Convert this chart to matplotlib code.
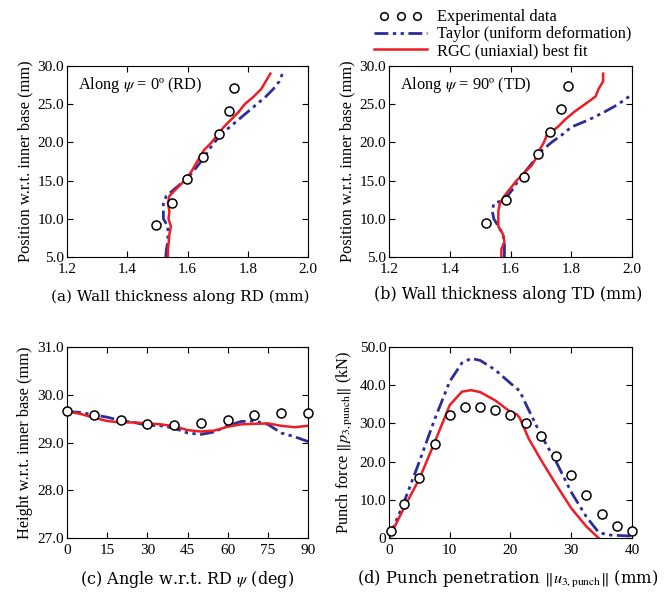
import matplotlib
matplotlib.use('Agg')
import matplotlib.pyplot as plt
from matplotlib.lines import Line2D
from matplotlib.legend_handler import HandlerLine2D

plt.rcParams['font.family'] = 'Liberation Serif'
plt.rcParams['mathtext.fontset'] = 'stix'

# (a) wall thickness along RD
pos_a = [5, 6, 7, 8, 9, 10, 11, 12, 13, 14, 15, 16, 17, 18, 19, 20, 21, 22, 23, 24, 25, 26, 27, 28, 29]
rgc_a = [1.535, 1.535, 1.538, 1.54, 1.545, 1.537, 1.54, 1.535, 1.54, 1.565, 1.59, 1.61, 1.625, 1.64,
         1.655, 1.68, 1.70, 1.72, 1.745, 1.77, 1.79, 1.82, 1.845, 1.86, 1.875]
tay_a = [1.528, 1.53, 1.535, 1.535, 1.535, 1.52, 1.52, 1.52, 1.53, 1.56, 1.59, 1.615, 1.635, 1.655,
         1.67, 1.69, 1.71, 1.74, 1.77, 1.80, 1.83, 1.86, 1.885, 1.905, 1.915]
exp_a_t = [1.495, 1.55, 1.597, 1.653, 1.705, 1.737, 1.755]
exp_a_p = [9.2, 12.1, 15.2, 18.1, 21.1, 24.1, 27.1]

# (b) wall thickness along TD
pos_b = [5, 6, 7, 8, 9, 10, 11, 12, 13, 14, 15, 16, 17, 18, 19, 20, 21, 22, 23, 24, 25, 26, 27, 28, 29]
rgc_b = [1.57, 1.57, 1.58, 1.575, 1.56, 1.56, 1.56, 1.565, 1.58, 1.60, 1.62, 1.645, 1.67, 1.685,
         1.695, 1.71, 1.72, 1.755, 1.78, 1.81, 1.845, 1.88, 1.89, 1.905, 1.905]
pos_b_tay = [5, 6, 7, 8, 9, 10, 11, 12, 12.5, 13, 14, 15, 16, 17, 18, 19, 20, 21, 22, 23, 24, 25, 26, 26.3]
tay_b = [1.58, 1.58, 1.58, 1.575, 1.56, 1.545, 1.54, 1.545, 1.58, 1.59, 1.61, 1.625, 1.645, 1.665,
         1.685, 1.705, 1.735, 1.77, 1.80, 1.86, 1.91, 1.955, 1.99, 2.0]
exp_b_t = [1.52, 1.585, 1.645, 1.69, 1.73, 1.765, 1.79]
exp_b_p = [9.5, 12.5, 15.5, 18.5, 21.4, 24.4, 27.4]

# (c) cup height vs angle
ang = [0, 5, 10, 15, 20, 25, 30, 35, 40, 45, 50, 55, 60, 65, 70, 75, 80, 85, 90]
rgc_c = [29.65, 29.6, 29.52, 29.45, 29.42, 29.42, 29.40, 29.38, 29.34, 29.26, 29.23, 29.25, 29.33,
         29.38, 29.39, 29.40, 29.35, 29.32, 29.35]
tay_c = [29.65, 29.63, 29.58, 29.53, 29.46, 29.42, 29.36, 29.35, 29.30, 29.20, 29.17, 29.22, 29.35,
         29.44, 29.45, 29.38, 29.20, 29.12, 29.02]
exp_c_ang = [0, 10, 20, 30, 40, 50, 60, 70, 80, 90]
exp_c_h = [29.65, 29.58, 29.48, 29.38, 29.36, 29.40, 29.47, 29.58, 29.62, 29.62]

# (d) punch force vs penetration
pen_rgc = [0, 2.5, 5, 7.5, 10, 12, 13.5, 15, 17.5, 20, 21, 21.5, 23, 25, 27.5, 30, 32.5, 34.5]
rgc_d = [0, 8, 15.5, 25, 34.8, 38.3, 38.7, 38.2, 36, 33, 32.4, 31.5, 26, 20.5, 14, 7.8, 3, 0]
pen_tay = [0, 2.5, 5, 7.5, 10, 12, 13.5, 15, 17.5, 20, 21.5, 23, 25, 27.5, 30, 32.5, 34.5, 36, 40]
tay_d = [0, 9.5, 20, 31, 41, 45.8, 47, 46.5, 44, 40.5, 38.5, 33.5, 27, 20, 12, 5.5, 1.5, 0.8, 0.5]
exp_d_u = [0.3, 2.5, 5, 7.5, 10, 12.5, 15, 17.5, 20, 22.5, 25, 27.5, 30, 32.5, 35, 37.5, 40]
exp_d_f = [1.8, 8.8, 15.8, 24.5, 32.2, 34.4, 34.3, 33.5, 32.3, 30.1, 26.8, 21.5, 16.5, 11.3, 6.4, 3.1, 1.8]

RED = '#ee1c25'
BLUE = '#2b2d9a'
DASH = (0, (5, 1.6, 1.2, 1.6, 1.2, 1.6))
W, H = 667, 593
FS = 11.8

fig = plt.figure(figsize=(W / 100, H / 100), dpi=100)


def make_ax(l, r, t, b):
    ax = fig.add_axes([l / W, 1 - b / H, (r - l) / W, (b - t) / H])
    ax.tick_params(direction='in', top=True, right=True, labelsize=11, length=4)
    ax.tick_params(axis='x', pad=4)
    ax.tick_params(axis='y', pad=2)
    return ax


def draw(ax, x_rgc, y_rgc, x_tay, y_tay, x_exp, y_exp):
    ax.plot(x_tay, y_tay, color=BLUE, lw=2, linestyle=DASH)
    ax.plot(x_rgc, y_rgc, color=RED, lw=1.8)
    ax.plot(x_exp, y_exp, 'o', ms=6.5, mfc='white', mec='black', mew=1.1, clip_on=False, zorder=5)


thick_ticks = [1.2, 1.4, 1.6, 1.8, 2.0]
pos_ticks = [5, 10, 15, 20, 25, 30]

ax = make_ax(67, 308, 66, 257)
draw(ax, rgc_a, pos_a, tay_a, pos_a, exp_a_t, exp_a_p)
ax.set_xlim(1.2, 2.0)
ax.set_ylim(5, 30)
ax.set_xticks(thick_ticks)
ax.set_yticks(pos_ticks)
ax.set_yticklabels(['%.1f' % v for v in pos_ticks])
ax.set_ylabel('Position w.r.t. inner base (mm)', fontsize=FS, labelpad=3)
ax.text(0.045, 0.955, r'Along $\psi$ = 0º (RD)', transform=ax.transAxes, fontsize=FS, va='top')
fig.text(180 / W, 1 - 297 / H, '(a) Wall thickness along RD (mm)', ha='center', va='center',
         fontsize=11, family='DejaVu Serif')

ax = make_ax(389, 632, 66, 257)
draw(ax, rgc_b, pos_b, tay_b, pos_b_tay, exp_b_t, exp_b_p)
ax.set_xlim(1.2, 2.0)
ax.set_ylim(5, 30)
ax.set_xticks(thick_ticks)
ax.set_yticks(pos_ticks)
ax.set_yticklabels(['%.1f' % v for v in pos_ticks])
ax.set_ylabel('Position w.r.t. inner base (mm)', fontsize=FS, labelpad=3)
ax.text(0.045, 0.955, r'Along $\psi$ = 90º (TD)', transform=ax.transAxes, fontsize=FS, va='top')
fig.text(508 / W, 1 - 295 / H, '(b) Wall thickness along TD (mm)', ha='center', va='center',
         fontsize=11.4, family='DejaVu Serif')

ax = make_ax(67, 308, 347, 538)
draw(ax, ang, rgc_c, ang, tay_c, exp_c_ang, exp_c_h)
ax.set_xlim(0, 90)
ax.set_ylim(27, 31)
ax.set_xticks([0, 15, 30, 45, 60, 75, 90])
ax.set_yticks([27, 28, 29, 30, 31])
ax.set_yticklabels(['%.1f' % v for v in [27, 28, 29, 30, 31]])
ax.set_ylabel('Height w.r.t. inner base (mm)', fontsize=FS, labelpad=3)
fig.text(187 / W, 1 - 580 / H, r'(c) Angle w.r.t. RD $\psi$ (deg)', ha='center', va='center',
         fontsize=11.5, family='DejaVu Serif')

ax = make_ax(389, 632, 347, 538)
draw(ax, pen_rgc, rgc_d, pen_tay, tay_d, exp_d_u, exp_d_f)
ax.set_xlim(0, 40)
ax.set_ylim(0, 50)
ax.set_xticks([0, 10, 20, 30, 40])
ax.set_yticks([0, 10, 20, 30, 40, 50])
ax.set_yticklabels(['0', '10.0', '20.0', '30.0', '40.0', '50.0'])
ax.set_ylabel(r'Punch force $\Vert p_{3,\mathrm{punch}}\Vert$ (kN)', fontsize=FS, labelpad=3)
fig.text(508 / W, 1 - 580 / H, r'(d) Punch penetration $\Vert u_{3,\mathrm{punch}}\Vert$ (mm)',
         ha='center', va='center', fontsize=11.8, family='DejaVu Serif')

handles = [
    Line2D([], [], ls='none', marker='o', ms=5.5, mfc='white', mec='black', mew=1.1),
    Line2D([], [], color=BLUE, lw=2, linestyle=DASH),
    Line2D([], [], color=RED, lw=1.8),
]
labels = ['Experimental data', 'Taylor (uniform deformation)', 'RGC (uniaxial) best fit']
fig.legend(handles, labels, loc='upper left', bbox_to_anchor=(358 / W, 1 + 2 / H), frameon=False,
           numpoints=3, handlelength=3.8, handletextpad=0.35, labelspacing=0.05, fontsize=FS,
           borderpad=0.2, handler_map={handles[0]: HandlerLine2D(marker_pad=0.9)})

fig.savefig('out.png', dpi=100)
